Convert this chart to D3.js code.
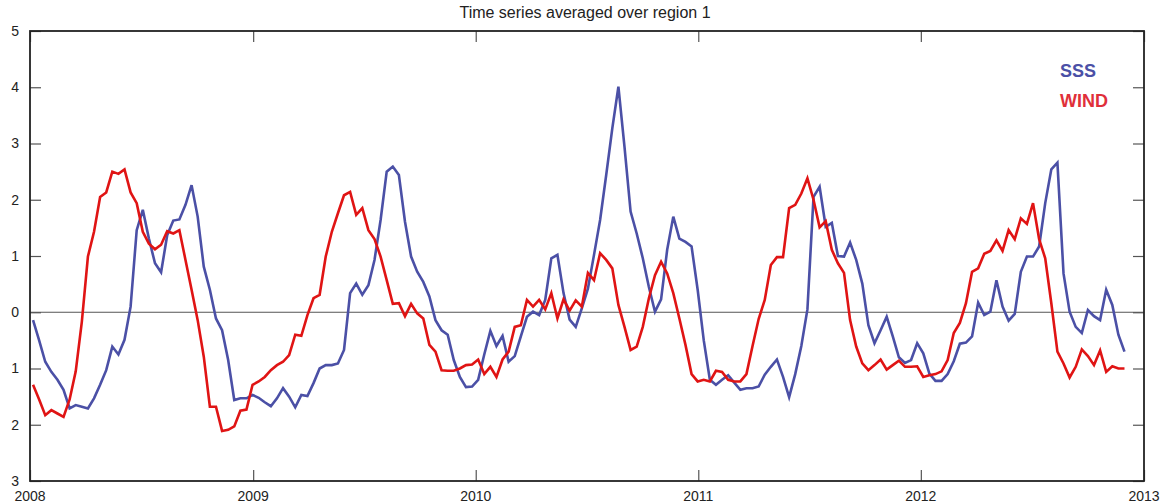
<!DOCTYPE html>
<html lang="en">
<head>
    <meta charset="utf-8">
    <title>Time series averaged over region 1</title>
    <script type="text/javascript" src="https://d3js.org/d3.v7.min.js"></script>
    <style type="text/css">
        body { margin: 0; background: #fff; }
        svg { font-family: "Liberation Sans", Arial, sans-serif; }
    </style>
</head>
<body>
<script type="text/javascript">

    // 10-day values, first sample on 6 Jan 2008
    var startDate = new Date(Date.UTC(2008, 0, 6));
    var stepDays = 10;

    var sss = [
        -0.14, -0.50, -0.88, -1.06, -1.20, -1.38, -1.71, -1.65, -1.68, -1.71,
        -1.53, -1.29, -1.03, -0.61, -0.75, -0.49, 0.10, 1.46, 1.82, 1.31,
        0.87, 0.71, 1.37, 1.63, 1.65, 1.91, 2.26, 1.70, 0.81, 0.40,
        -0.11, -0.32, -0.85, -1.56, -1.53, -1.53, -1.47, -1.52, -1.60, -1.67,
        -1.53, -1.35, -1.50, -1.69, -1.47, -1.49, -1.26, -1.00, -0.94, -0.94,
        -0.91, -0.67, 0.34, 0.51, 0.31, 0.48, 0.93, 1.64, 2.50, 2.59,
        2.44, 1.61, 0.99, 0.72, 0.54, 0.28, -0.14, -0.32, -0.40, -0.85,
        -1.15, -1.33, -1.32, -1.20, -0.75, -0.33, -0.60, -0.42, -0.88, -0.78,
        -0.43, -0.08, 0.01, -0.05, 0.22, 0.96, 1.02, 0.34, -0.13, -0.26,
        0.07, 0.42, 1.02, 1.64, 2.44, 3.27, 4.01, 2.94, 1.79, 1.40,
        0.96, 0.45, 0.01, 0.23, 1.11, 1.70, 1.31, 1.25, 1.17, 0.40,
        -0.50, -1.20, -1.29, -1.20, -1.12, -1.25, -1.38, -1.35, -1.35, -1.32,
        -1.11, -0.97, -0.84, -1.15, -1.51, -1.10, -0.60, 0.05, 2.05, 2.23,
        1.52, 1.59, 1.00, 0.99, 1.24, 0.93, 0.51, -0.23, -0.55, -0.32,
        -0.08, -0.43, -0.80, -0.90, -0.85, -0.55, -0.73, -1.09, -1.22, -1.22,
        -1.10, -0.87, -0.56, -0.54, -0.43, 0.17, -0.05, 0.01, 0.57, 0.10,
        -0.15, -0.03, 0.72, 0.99, 0.99, 1.17, 1.94, 2.54, 2.66, 0.69,
        0.01, -0.26, -0.37, 0.04, -0.07, -0.14, 0.40, 0.13, -0.40, -0.70
    ];

    var wind = [
        -1.29, -1.55, -1.83, -1.74, -1.80, -1.86, -1.55, -1.05, -0.17, 0.99,
        1.43, 2.05, 2.13, 2.50, 2.46, 2.54, 2.13, 1.94, 1.43, 1.22,
        1.12, 1.20, 1.44, 1.40, 1.46, 0.93, 0.40, -0.14, -0.79, -1.68,
        -1.68, -2.11, -2.09, -2.03, -1.75, -1.73, -1.29, -1.23, -1.15, -1.03,
        -0.94, -0.88, -0.76, -0.40, -0.42, -0.05, 0.25, 0.31, 0.99, 1.43,
        1.76, 2.08, 2.14, 1.73, 1.85, 1.46, 1.30, 0.99, 0.57, 0.15,
        0.16, -0.07, 0.15, -0.02, -0.11, -0.58, -0.70, -1.03, -1.04, -1.04,
        -1.00, -0.94, -0.93, -0.84, -1.10, -0.97, -1.15, -0.84, -0.70, -0.26,
        -0.23, 0.22, 0.10, 0.22, 0.05, 0.34, -0.11, 0.23, 0.03, 0.21,
        0.10, 0.70, 0.57, 1.05, 0.93, 0.78, 0.13, -0.26, -0.67, -0.61,
        -0.26, 0.25, 0.66, 0.90, 0.69, 0.34, -0.11, -0.58, -1.10, -1.23,
        -1.20, -1.23, -1.04, -1.06, -1.20, -1.23, -1.23, -1.10, -0.60, -0.12,
        0.22, 0.84, 0.98, 0.98, 1.85, 1.91, 2.11, 2.38, 2.00, 1.51,
        1.62, 1.11, 0.87, 0.70, -0.14, -0.61, -0.91, -1.03, -0.94, -0.84,
        -1.02, -0.94, -0.86, -0.97, -0.97, -0.96, -1.15, -1.12, -1.10, -1.05,
        -0.85, -0.37, -0.19, 0.16, 0.72, 0.78, 1.04, 1.09, 1.28, 1.09,
        1.46, 1.30, 1.67, 1.57, 1.94, 1.30, 0.96, 0.16, -0.70, -0.91,
        -1.16, -0.97, -0.66, -0.78, -0.94, -0.68, -1.06, -0.96, -1.00, -1.00
    ];

    var yearTicks = [2008, 2009, 2010, 2011, 2012, 2013];
    var yTicks = [5, 4, 3, 2, 1, 0, -1, -2, -3];

    var width = 1173, height = 504;
    var plotLeft = 30, plotRight = 1144, plotTop = 31, plotBottom = 481;
    var blue = "#4b50a6", red = "#e01414";

    var svg = d3.select("body")
        .append("svg")
        .attr("width", width)
        .attr("height", height);

    var x = d3.scaleUtc()
        .domain([new Date(Date.UTC(2008, 0, 1)), new Date(Date.UTC(2013, 0, 1))])
        .range([plotLeft, plotRight]);

    var y = d3.scaleLinear()
        .domain([-3, 5])
        .range([plotBottom, plotTop]);

    function dateAt(i) {
        return d3.utcDay.offset(startDate, i * stepDays);
    }

    var yearDates = yearTicks.map(function(yr) { return new Date(Date.UTC(yr, 0, 1)); });

    // title
    svg.append("text")
        .attr("x", 585)
        .attr("y", 18)
        .attr("text-anchor", "middle")
        .style("font-size", "16px")
        .attr("fill", "#222")
        .text("Time series averaged over region 1");

    // zero line
    svg.append("line")
        .attr("x1", plotLeft).attr("x2", plotRight)
        .attr("y1", y(0)).attr("y2", y(0))
        .attr("stroke", "#555")
        .attr("stroke-width", 1.2);

    // axes, ticks drawn inward
    var tickLen = 11;
    var yLeft = d3.axisRight(y).tickValues(yTicks).tickSize(tickLen).tickFormat("");
    var yRight = d3.axisLeft(y).tickValues(yTicks).tickSize(tickLen).tickFormat("");
    var xBottom = d3.axisTop(x).tickValues(yearDates).tickSize(tickLen).tickFormat("");
    var xTop = d3.axisBottom(x).tickValues(yearDates).tickSize(tickLen).tickFormat("");

    [
        [yLeft, "translate(" + plotLeft + ",0)"],
        [yRight, "translate(" + plotRight + ",0)"],
        [xBottom, "translate(0," + plotBottom + ")"],
        [xTop, "translate(0," + plotTop + ")"]
    ].forEach(function(a) {
        var g = svg.append("g").attr("transform", a[1]).call(a[0]);
        g.select(".domain").remove();
        g.selectAll(".tick line").attr("stroke", "#555").attr("stroke-width", 1.2);
    });

    // tick labels
    svg.append("g").selectAll("text")
        .data(yTicks)
        .enter().append("text")
        .attr("x", plotLeft - 11)
        .attr("y", function(d) { return y(d); })
        .attr("dy", "0.35em")
        .attr("text-anchor", "end")
        .style("font-size", "14px")
        .attr("fill", "#222")
        .text(function(d) { return Math.abs(d); });

    svg.append("g").selectAll("text")
        .data(yearTicks)
        .enter().append("text")
        .attr("x", function(d, i) { return x(yearDates[i]); })
        .attr("y", 501)
        .attr("text-anchor", "middle")
        .style("font-size", "14px")
        .attr("fill", "#222")
        .text(function(d) { return d; });

    // series
    var line = d3.line()
        .x(function(d, i) { return x(dateAt(i)); })
        .y(function(d) { return y(d); });

    svg.append("path")
        .datum(sss)
        .attr("d", line)
        .attr("fill", "none")
        .attr("stroke", blue)
        .attr("stroke-width", 2.6)
        .attr("stroke-linejoin", "miter");

    svg.append("path")
        .datum(wind)
        .attr("d", line)
        .attr("fill", "none")
        .attr("stroke", red)
        .attr("stroke-width", 2.6)
        .attr("stroke-linejoin", "miter");

    // frame
    svg.append("rect")
        .attr("x", plotLeft).attr("y", plotTop)
        .attr("width", plotRight - plotLeft).attr("height", plotBottom - plotTop)
        .attr("fill", "none")
        .attr("stroke", "#222")
        .attr("stroke-width", 1.8);

    // legend
    svg.append("text")
        .attr("x", 1060).attr("y", 77)
        .style("font-size", "18px").style("font-weight", "bold")
        .attr("fill", blue)
        .text("SSS");

    svg.append("text")
        .attr("x", 1060).attr("y", 107)
        .style("font-size", "18px").style("font-weight", "bold")
        .attr("fill", "#e0303a")
        .text("WIND");

</script>
</body>
</html>
